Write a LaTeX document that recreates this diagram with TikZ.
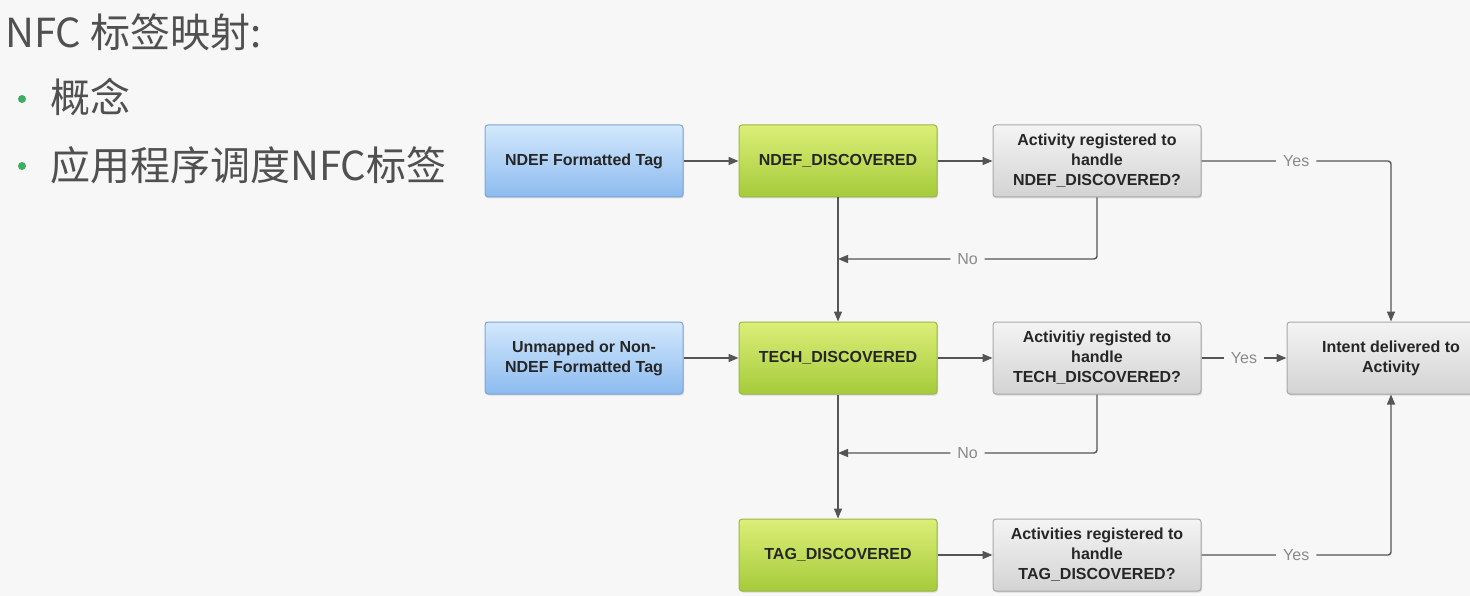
\documentclass[tikz,border=0pt]{standalone}
\usepackage{fontspec}
\setmainfont{Liberation Sans}
\newfontfamily\cjk{Noto Sans CJK SC}
\usetikzlibrary{arrows.meta,shadows}
\definecolor{bg}{HTML}{F7F7F7}
\definecolor{txt}{HTML}{505050}
\definecolor{bul}{HTML}{3DAE5E}
\definecolor{ln}{HTML}{555555}
\definecolor{lbl}{HTML}{8A8A8A}
\definecolor{bluetop}{HTML}{D3E8FC}
\definecolor{bluebot}{HTML}{8CBBEF}
\definecolor{blueln}{HTML}{7BA6DA}
\definecolor{greentop}{HTML}{DCEE78}
\definecolor{greenbot}{HTML}{A5CB3A}
\definecolor{greenln}{HTML}{9AB845}
\definecolor{graytop}{HTML}{F4F4F4}
\definecolor{graybot}{HTML}{D3D3D3}
\definecolor{grayln}{HTML}{A8A8A8}
\tikzset{
  box/.style={rounded corners=3pt, line width=1pt, minimum height=72pt,
    align=center, font=\fontsize{16}{20}\selectfont\bfseries, text=black!85,
    drop shadow={shadow xshift=1pt, shadow yshift=-1.5pt, opacity=0.25}},
  bluebox/.style={box, draw=blueln, top color=bluetop, bottom color=bluebot, minimum width=198pt},
  greenbox/.style={box, draw=greenln, top color=greentop, bottom color=greenbot, minimum width=198pt},
  graybox/.style={box, draw=grayln, top color=graytop, bottom color=graybot, minimum width=208pt},
  conn/.style={draw=ln, line width=1.4pt, -{Triangle[length=10pt,width=8pt]}},
  plain/.style={draw=ln, line width=1.4pt},
  lab/.style={fill=bg, text=lbl, font=\fontsize{16}{18}\selectfont, inner xsep=7pt, inner ysep=2pt},
  title/.style={text=txt, font=\cjk\fontsize{40}{44}\selectfont, anchor=west, inner sep=0pt},
  dot/.style={circle, fill=bul, inner sep=0pt, minimum size=8pt}
}
\begin{document}
\begin{tikzpicture}[x=1pt,y=-1pt]
\clip (0,0) rectangle (1470,596);
\fill[bg] (0,0) rectangle (1470,596);
\path[use as bounding box] (0,0) rectangle (1470,596);

% title and bullets
\node[title] (t) at (5,32) {NFC 标签映射:};
\node[dot] (d1) at (22,99) {};
\node[title] (b1) at (50,97) {概念};
\node[dot] (d2) at (22,166) {};
\node[title] (b2) at (50,165) {应用程序调度NFC标签};

% boxes
\node[bluebox] (blue1) at (584,161) {NDEF Formatted Tag};
\node[greenbox] (green1) at (838,161) {NDEF\_DISCOVERED};
\node[graybox] (gray1) at (1097,161) {Activity registered to\\handle\\NDEF\_DISCOVERED?};

\node[bluebox] (blue2) at (584,358) {Unmapped or Non-\\NDEF Formatted Tag};
\node[greenbox] (green2) at (838,358) {TECH\_DISCOVERED};
\node[graybox] (gray2) at (1097,358) {Activitiy registed to\\handle\\TECH\_DISCOVERED?};
\node[graybox] (intent) at (1391,358) {Intent delivered to\\Activity};

\node[greenbox] (green3) at (838,555) {TAG\_DISCOVERED};
\node[graybox] (gray3) at (1097,555) {Activities registered to\\handle\\TAG\_DISCOVERED?};

\coordinate (no1) at (838,259);
\coordinate (no2) at (838,453);

% connectors
\draw[conn] (blue1) -- (green1);
\draw[conn] (green1) -- (gray1);
\draw[conn] (blue2) -- (green2);
\draw[conn] (green2) -- (gray2);
\draw[conn] (green1) -- (green2);
\draw[conn] (green2) -- (green3);
\draw[conn] (green3) -- (gray3);

\draw[conn, rounded corners=3pt] (gray1.south) -- (gray1.south |- no1) -- node[lab]{No} (no1);
\draw[conn, rounded corners=3pt] (gray2.south) -- (gray2.south |- no2) -- node[lab]{No} (no2);

\draw[conn, rounded corners=3pt] (gray1.east) -- node[lab]{Yes} (intent.north |- gray1.east) -- (intent.north);
\draw[conn] (gray2.east) -- node[lab]{Yes} (intent.west);
\draw[conn, rounded corners=3pt] (gray3.east) -- node[lab]{Yes} (intent.south |- gray3.east) -- (intent.south);
\end{tikzpicture}
\end{document}
